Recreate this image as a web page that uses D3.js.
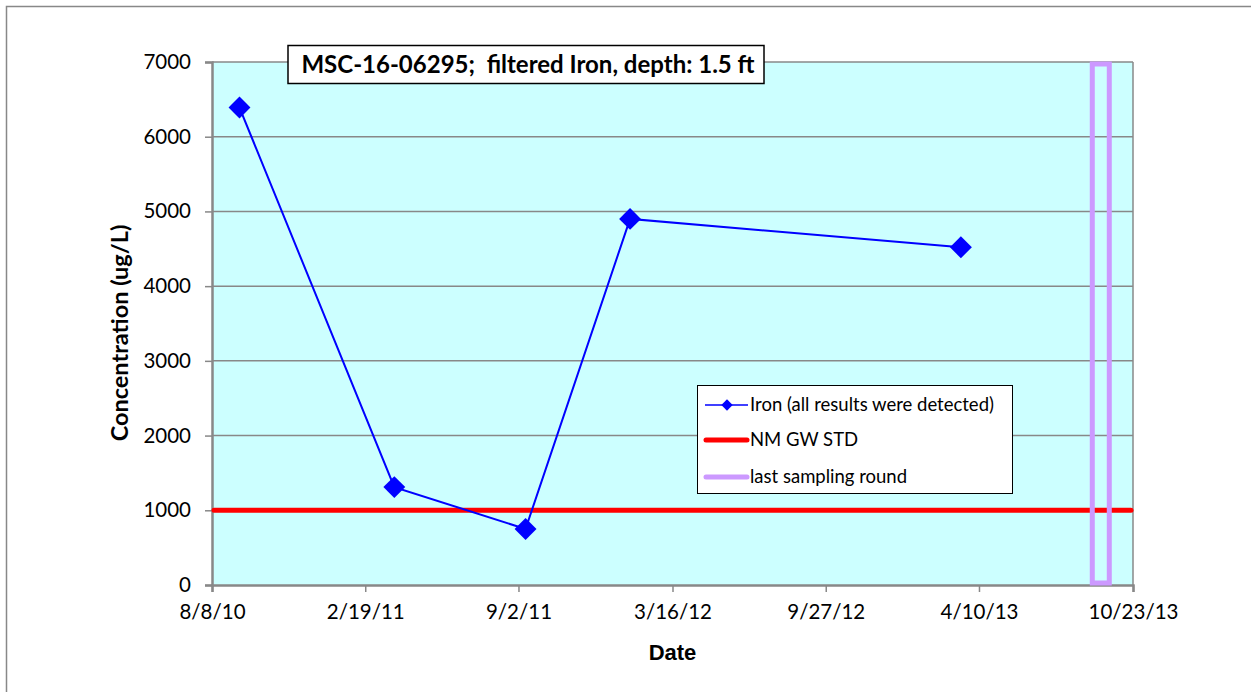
<!DOCTYPE html>
<html>
<head>
<meta charset="utf-8">
<script src="https://cdn.jsdelivr.net/npm/d3@7"></script>
<style>
  body { margin: 0; background: #fff; }
  svg { display: block; }
  .calib { font-family: Lato, "Open Sans", sans-serif; }
</style>
</head>
<body>
<svg width="1251" height="692"></svg>
<script>
// sample dates and filtered iron results (ug/L)
var sampleDates = ["2010-09-12", "2011-03-28", "2011-09-11", "2012-01-22", "2013-03-18"];
var ironValues = [6390, 1310, 750, 4900, 4520];
var gwStd = 1000;
var lastRound = "2013-09-12";
var xTickDates = ["2010-08-08", "2011-02-19", "2011-09-02", "2012-03-16", "2012-09-27", "2013-04-10", "2013-10-23"];
var yTicks = [0, 1000, 2000, 3000, 4000, 5000, 6000, 7000];
var legendLabels = ["Iron (all results were detected)", "NM GW STD", "last sampling round"];
var titleText = "MSC-16-06295;  filtered Iron, depth: 1.5 ft";

function draw() {
  var parse = d3.utcParse("%Y-%m-%d");
  var svg = d3.select("svg");

  // outer frame
  svg.append("rect")
    .attr("x", 6.5).attr("y", 6.5)
    .attr("width", 1300).attr("height", 1300)
    .attr("fill", "none").attr("stroke", "#888").attr("stroke-width", 1.5);

  var pL = 212, pR = 1133, pT = 62, pB = 585;

  var x = d3.scaleUtc()
    .domain([parse(xTickDates[0]), parse(xTickDates[xTickDates.length - 1])])
    .range([pL, pR]);
  var y = d3.scaleLinear().domain([0, 7000]).range([pB, pT]);

  // plot background
  svg.append("rect")
    .attr("x", pL).attr("y", pT)
    .attr("width", pR - pL).attr("height", pB - pT)
    .attr("fill", "#ccffff");

  // gridlines
  svg.append("g").selectAll("line")
    .data(yTicks.filter(function(d) { return d > 0; }))
    .enter().append("line")
    .attr("x1", pL).attr("x2", pR)
    .attr("y1", function(d) { return y(d); })
    .attr("y2", function(d) { return y(d); })
    .attr("stroke", "#888").attr("stroke-width", 1.5);

  // right border of plot
  svg.append("line")
    .attr("x1", pR).attr("x2", pR).attr("y1", pT).attr("y2", pB)
    .attr("stroke", "#888").attr("stroke-width", 1.5);

  function fmtDate(d) {
    return (d.getUTCMonth() + 1) + "/" + d.getUTCDate() + "/" + String(d.getUTCFullYear()).slice(2);
  }

  // x axis
  var xAxis = d3.axisBottom(x)
    .tickValues(xTickDates.map(parse))
    .tickFormat(fmtDate)
    .tickSize(7).tickPadding(12);
  var gx = svg.append("g").attr("transform", "translate(0," + pB + ")").call(xAxis);
  gx.select(".domain").attr("stroke", "#888").attr("stroke-width", 2.5);
  gx.selectAll(".tick line").attr("stroke", "#888").attr("stroke-width", 1.5);
  gx.selectAll(".tick text")
    .attr("class", "calib")
    .attr("font-size", 20.5).attr("fill", "#000");

  // y axis
  var yAxis = d3.axisLeft(y).tickValues(yTicks).tickFormat(d3.format("d"))
    .tickSize(7).tickPadding(14);
  var gy = svg.append("g").attr("transform", "translate(" + pL + ",0)").call(yAxis);
  gy.select(".domain").attr("stroke", "#888").attr("stroke-width", 2.5);
  gy.selectAll(".tick line").attr("stroke", "#888").attr("stroke-width", 1.5);
  gy.selectAll(".tick text")
    .attr("class", "calib")
    .attr("font-size", 20.5).attr("fill", "#000");

  // axis titles
  svg.append("text")
    .attr("x", (pL + pR) / 2).attr("y", 660)
    .attr("text-anchor", "middle")
    .attr("font-family", "Liberation Sans, Arial, sans-serif")
    .attr("font-weight", "bold").attr("font-size", 22)
    .text("Date");

  svg.append("text")
    .attr("class", "calib")
    .attr("transform", "translate(128," + 333 + ") rotate(-90)")
    .attr("text-anchor", "middle")
    .attr("font-weight", "bold").attr("font-size", 23.5)
    .text("Concentration (ug/L)");

  // standard line
  svg.append("line")
    .attr("x1", pL + 2).attr("x2", pR - 2)
    .attr("y1", y(gwStd)).attr("y2", y(gwStd))
    .attr("stroke", "#ff0000").attr("stroke-width", 5)
    .attr("stroke-linecap", "round");

  // last sampling round
  var lx = x(parse(lastRound));
  svg.append("rect")
    .attr("x", lx - 8.5).attr("y", pT + 2)
    .attr("width", 17).attr("height", pB - pT - 4)
    .attr("fill", "none").attr("stroke", "#cc99ff").attr("stroke-width", 5);

  // iron series
  var pts = sampleDates.map(function(d, i) { return { date: parse(d), value: ironValues[i] }; });
  var line = d3.line()
    .x(function(d) { return x(d.date); })
    .y(function(d) { return y(d.value); });
  svg.append("path")
    .datum(pts)
    .attr("d", line)
    .attr("fill", "none").attr("stroke", "#0000ff").attr("stroke-width", 2);

  var diamond = d3.symbol().type(d3.symbolSquare).size(240);
  svg.append("g").selectAll("path")
    .data(pts)
    .enter().append("path")
    .attr("d", diamond)
    .attr("transform", function(d) { return "translate(" + x(d.date) + "," + y(d.value) + ") rotate(45)"; })
    .attr("fill", "#0000ff");

  // title box
  svg.append("rect")
    .attr("x", 288).attr("y", 45.5)
    .attr("width", 476).attr("height", 38)
    .attr("fill", "#fff").attr("stroke", "#000").attr("stroke-width", 1.5);
  svg.append("text")
    .attr("class", "calib")
    .attr("x", 528).attr("y", 73)
    .attr("text-anchor", "middle")
    .attr("font-weight", "bold").attr("font-size", 24)
    .style("white-space", "pre")
    .text(titleText);

  // legend
  var lg = svg.append("g").attr("transform", "translate(697,385)");
  lg.append("rect")
    .attr("x", 0.5).attr("y", 0.5).attr("width", 315).attr("height", 108)
    .attr("fill", "#fff").attr("stroke", "#000").attr("stroke-width", 1);
  var legendRows = [20, 55, 92];
  legendLabels.forEach(function(lbl, i) {
    var ly = legendRows[i];
    if (i === 0) {
      lg.append("line").attr("x1", 8).attr("x2", 51).attr("y1", ly).attr("y2", ly)
        .attr("stroke", "#0000ff").attr("stroke-width", 1.5);
      lg.append("path").attr("d", d3.symbol().type(d3.symbolSquare).size(64)())
        .attr("transform", "translate(30," + ly + ") rotate(45)")
        .attr("fill", "#0000ff");
    } else {
      lg.append("line").attr("x1", 9).attr("x2", 50).attr("y1", ly).attr("y2", ly)
        .attr("stroke", i === 1 ? "#ff0000" : "#cc99ff").attr("stroke-width", 5)
        .attr("stroke-linecap", "round");
    }
    lg.append("text")
      .attr("class", "calib")
      .attr("x", 53).attr("y", ly + 6)
      .attr("font-size", 18.5)
      .text(lbl);
  });
}

draw();
</script>
</body>
</html>
